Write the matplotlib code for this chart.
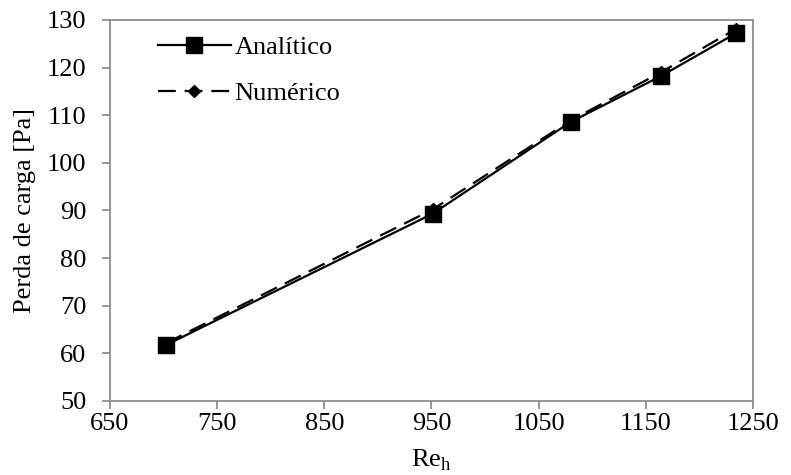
import matplotlib
matplotlib.use('Agg')
import matplotlib.pyplot as plt

plt.rcParams['font.family'] = ['Liberation Serif', 'DejaVu Serif']
plt.rcParams['mathtext.fontset'] = 'custom'
plt.rcParams['mathtext.rm'] = 'Liberation Serif'

re_h = [702, 951, 1080, 1164, 1234]
analitico = [61.7, 89.3, 108.6, 118.2, 127.2]
numerico = [62.1, 90.2, 108.9, 119.0, 128.1]

x_ticks = [650, 750, 850, 950, 1050, 1150, 1250]
y_ticks = [50, 60, 70, 80, 90, 100, 110, 120, 130]

fig = plt.figure(figsize=(7.91, 4.75), dpi=100)
ax = fig.add_axes([0.139, 0.156, 0.813, 0.802])

ax.plot(re_h, analitico, '-', color='black', lw=1.6, marker='s', ms=11.5, label='Analítico')
ax.plot(re_h, numerico, '--', color='black', lw=1.6, marker='D', ms=6, dashes=(8, 4), label='Numérico')

ax.set_xlim(650, 1250)
ax.set_ylim(50, 130)
ax.set_xticks(x_ticks)
ax.set_yticks(y_ticks)
for s in ax.spines.values():
    s.set_color('#8c8c8c')
    s.set_linewidth(1.3)
ax.tick_params(colors='#8c8c8c', labelcolor='black', labelsize=19, length=6, width=1.3,
               direction='out')
ax.tick_params(axis='x', pad=3)
ax.tick_params(axis='y', pad=11)

ax.set_xlabel(r'Re$_{\mathregular{h}}$', fontsize=19, labelpad=9)
ax.set_ylabel('Perda de carga [Pa]', fontsize=19, labelpad=8)

ax.legend(loc='upper left', frameon=False, fontsize=19, handlelength=2.75,
          handletextpad=0.15, borderaxespad=0.2, labelspacing=0.85,
          bbox_to_anchor=(0.05, 1.0))

fig.savefig('out.png', dpi=100)
